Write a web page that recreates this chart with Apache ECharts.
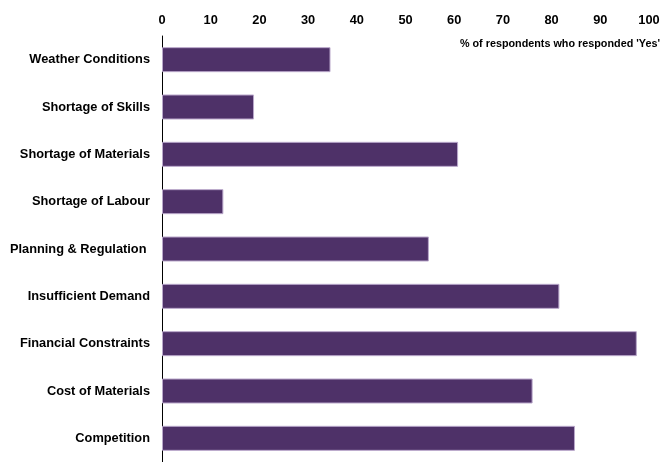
<!DOCTYPE html>
<html>
<head>
<meta charset="utf-8">
<script src="https://cdn.jsdelivr.net/npm/echarts@6/dist/echarts.min.js"></script>
<style>
  html, body { margin: 0; padding: 0; background: #ffffff; }
  #chart { width: 664px; height: 462px; }
</style>
</head>
<body>
<div id="chart"></div>
<script>
// Constraints on activity, top to bottom
var categories = [
  'Weather Conditions',
  'Shortage of Skills',
  'Shortage of Materials',
  'Shortage of Labour',
  'Planning & Regulation ',
  'Insufficient Demand',
  'Financial Constraints',
  'Cost of Materials',
  'Competition'
];
// Share answering 'Yes' (%)
var yesShare = [34.6, 18.9, 60.8, 12.6, 54.8, 81.6, 97.5, 76.1, 84.8];
var axisNote = "% of respondents who responded 'Yes'";

var chart = echarts.init(document.getElementById('chart'), null, { renderer: 'canvas' });
chart.setOption({
  animation: false,
  backgroundColor: '#ffffff',
  textStyle: { fontFamily: 'Liberation Sans, Arial, sans-serif' },
  grid: { left: 162, top: 36, width: 487, height: 431, containLabel: false },
  xAxis: {
    type: 'value',
    position: 'top',
    min: 0,
    max: 100,
    interval: 10,
    axisLine: { show: false },
    axisTick: { show: false },
    splitLine: { show: false },
    axisLabel: {
      margin: 9,
      color: '#000000',
      fontWeight: 'bold',
      fontSize: 12.8,
      fontFamily: 'Liberation Sans, Arial, sans-serif'
    }
  },
  yAxis: {
    type: 'category',
    data: categories,
    inverse: true,
    axisLine: { show: true, lineStyle: { color: '#000000', width: 1 } },
    axisTick: { show: false },
    axisLabel: {
      margin: 12,
      color: '#000000',
      fontWeight: 'bold',
      fontSize: 12.8,
      fontFamily: 'Liberation Sans, Arial, sans-serif'
    }
  },
  series: [{
    type: 'bar',
    data: yesShare,
    barWidth: 25,
    itemStyle: { color: '#4e3168', borderColor: '#b9a7ca', borderWidth: 1 }
  }],
  graphic: [{
    type: 'text',
    right: 4,
    top: 39,
    style: {
      text: axisNote,
      fill: '#000000',
      font: 'bold 10.8px "Liberation Sans", Arial, sans-serif'
    }
  }]
});
</script>
</body>
</html>
